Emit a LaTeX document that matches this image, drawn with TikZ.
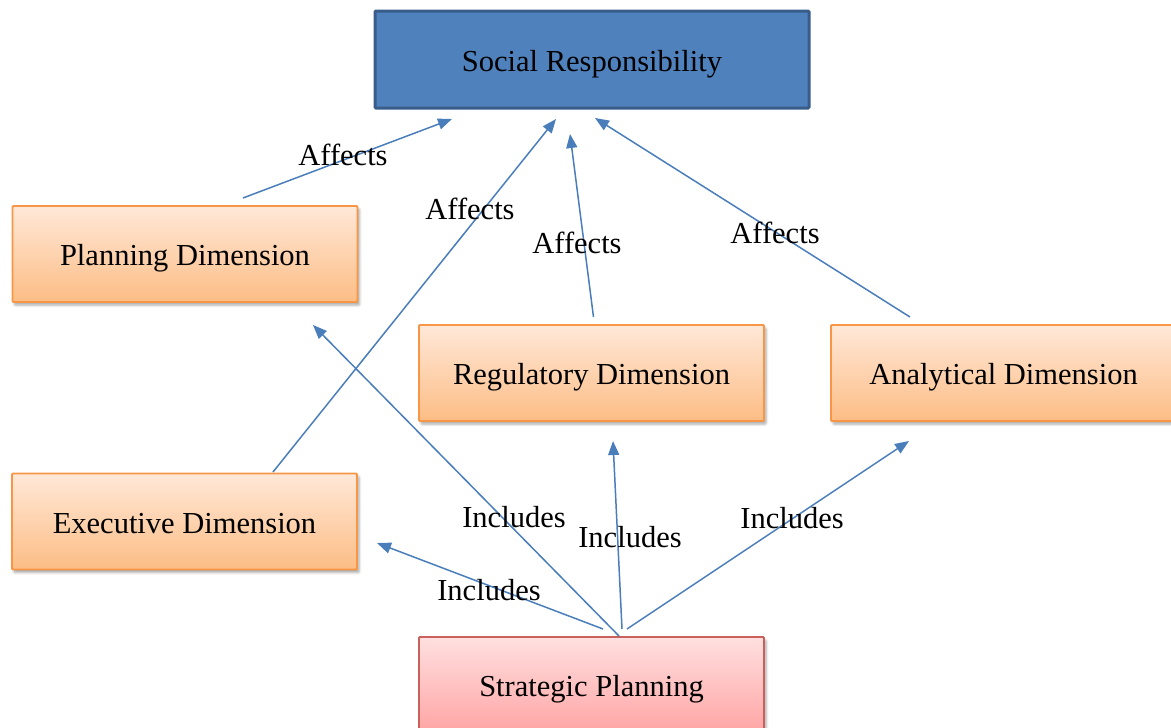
\documentclass[tikz,border=0pt]{standalone}
\usepackage{fontspec}
\setmainfont{Liberation Serif}
\usetikzlibrary{arrows.meta,shadows.blur}

\definecolor{srfill}{HTML}{4F81BD}
\definecolor{srline}{HTML}{385D8A}
\definecolor{dimline}{HTML}{F79646}
\definecolor{dimtop}{HTML}{FFE8D8}
\definecolor{dimbot}{HTML}{FCBD85}
\definecolor{spline}{HTML}{C9605C}
\definecolor{sptop}{HTML}{FFE0E0}
\definecolor{spbot}{HTML}{FFA4A4}
\definecolor{link}{HTML}{4A7EBB}

\tikzset{
  boxbase/.style={rectangle, rounded corners=1pt, minimum width=345pt, minimum height=96pt,
    inner sep=0pt, text height=23.5pt, text depth=0pt,
    font=\fontsize{30.5}{36}\selectfont, text=black},
  srbox/.style={boxbase, minimum width=434pt, minimum height=97pt, fill=srfill,
    draw=srline, line width=3pt},
  dimbox/.style={boxbase, draw=dimline, line width=1.8pt, top color=dimtop, bottom color=dimbot,
    blur shadow={shadow xshift=2pt, shadow yshift=-3pt, shadow blur radius=2.5pt, shadow opacity=35}},
  spbox/.style={boxbase, draw=spline, line width=1.8pt, top color=sptop, bottom color=spbot,
    blur shadow={shadow xshift=2pt, shadow yshift=-3pt, shadow blur radius=2.5pt, shadow opacity=35}},
  linkarrow/.style={draw=link, line width=1.5pt, -{Triangle[length=14pt,width=11pt]}},
  linklabel/.style={font=\fontsize{30.5}{36}\selectfont, text=black, inner sep=0pt}
}

\begin{document}
\begin{tikzpicture}[x=1pt, y=-1pt]
  \useasboundingbox (0,0) rectangle (1171,728);

  % boxes
  \node[srbox] (sr)   at (592,59.5)   {Social Responsibility};
  \node[dimbox] (plan) at (185,254)    {Planning Dimension};
  \node[dimbox] (reg)  at (591.5,373)  {Regulatory Dimension};
  \node[dimbox] (ana)  at (1003.5,373) {Analytical Dimension};
  \node[dimbox] (exe)  at (184.5,521.5){Executive Dimension};
  \node[spbox] (sp)   at (591.5,685)  {Strategic Planning};

  % connector end points
  \coordinate (planOut) at (243,198);
  \coordinate (exeOut)  at (273,472);
  \coordinate (regOut)  at (593.5,317);
  \coordinate (anaOut)  at (910,317);
  \coordinate (srInA)   at (452,119);
  \coordinate (srInB)   at (556,119);
  \coordinate (srInC)   at (570,134);
  \coordinate (srInD)   at (595,118);

  \coordinate (spOutA)  at (619,636);
  \coordinate (spOutB)  at (603,629);
  \coordinate (spOutC)  at (622,629);
  \coordinate (spOutD)  at (627,629);
  \coordinate (planIn)  at (313,325);
  \coordinate (exeIn)   at (377,543);
  \coordinate (regIn)   at (613,441);
  \coordinate (anaIn)   at (909,441);

  % affects links
  \draw[linkarrow] (planOut) -- (srInA);
  \draw[linkarrow] (exeOut)  -- (srInB);
  \draw[linkarrow] (regOut)  -- (srInC);
  \draw[linkarrow] (anaOut)  -- (srInD);

  % includes links
  \draw[linkarrow] (spOutA) -- (planIn);
  \draw[linkarrow] (spOutB) -- (exeIn);
  \draw[linkarrow] (spOutC) -- (regIn);
  \draw[linkarrow] (spOutD) -- (anaIn);

  % labels
  \node[linklabel] (lA) at (343,155) {Affects};
  \node[linklabel] (lB) at (470,209) {Affects};
  \node[linklabel] (lC) at (577,243) {Affects};
  \node[linklabel] (lD) at (775,233) {Affects};
  \node[linklabel] (lE) at (514,517) {Includes};
  \node[linklabel] (lF) at (489,590) {Includes};
  \node[linklabel] (lG) at (630,537) {Includes};
  \node[linklabel] (lH) at (792,518) {Includes};
\end{tikzpicture}
\end{document}
